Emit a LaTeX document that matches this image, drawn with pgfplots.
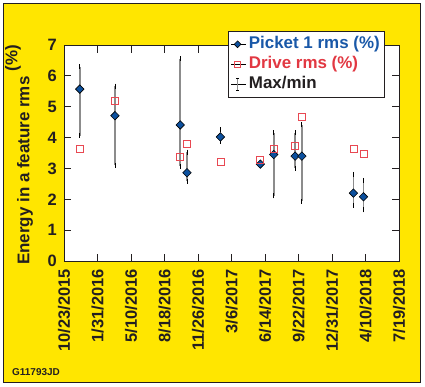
\documentclass[border=0pt]{standalone}
\usepackage{fontspec}
\setmainfont{Liberation Sans}
\usepackage{pgfplots}
\pgfplotsset{compat=1.18}
\usepackage{pgfplotstable}
\definecolor{bgyellow}{RGB}{255,230,0}
\definecolor{pblue}{RGB}{12,80,158}
\definecolor{ptext}{RGB}{25,88,168}
\definecolor{dred}{RGB}{232,72,82}
\definecolor{dtext}{RGB}{226,56,66}
\definecolor{txt}{RGB}{35,31,32}
\definecolor{ebar}{RGB}{140,140,140}
\pgfplotsset{
  leg mark/.style={legend image code/.code={\path (-6.5bp,0bp) -- (8.5bp,0bp); \draw[##1, mark size=#1] plot coordinates {(0bp,0bp)};}},
}
\pgfplotstableread{
x y top bot drive
47 5.57 6.30 4.06 3.62
152 4.71 5.67 3.10 5.20
347 4.41 6.55 3.07 3.36
367 2.86 3.53 2.58 3.78
467 4.02 4.25 3.88 3.20
586 3.14 3.18 3.10 3.27
626 3.45 4.15 2.11 3.62
690 3.40 4.16 3.00 3.74
710 3.40 4.42 1.94 4.68
864 2.20 2.81 1.81 3.62
894 2.08 2.61 1.66 3.46
}\data
\begin{document}
\begin{tikzpicture}
\useasboundingbox (-64bp,-126bp) rectangle (361bp,261bp);
\fill[white] (-64bp,-126bp) rectangle (361bp,261bp);
\fill[bgyellow] (-61bp,-121.7bp) rectangle (356.4bp,257.7bp);
\draw[line width=0.8pt, txt] (-61bp,-121.7bp) rectangle (356.4bp,257.7bp);
\node[anchor=west, inner sep=0pt, font=\bfseries\fontsize{10}{12}\selectfont, text=txt] at (-52bp,-111bp) {G11793JD};
\node[rotate=90, anchor=base west, inner sep=0pt, font=\bfseries\fontsize{17}{20}\selectfont, text=txt] (YL) at (-34.6bp,-4bp) {Energy in a feature rms};
\node[rotate=90, anchor=base west, inner sep=0pt, font=\bfseries\fontsize{17}{20}\selectfont, text=txt] at ([yshift=4.7bp, xshift=-12bp]YL.base east) {(\%)};
\begin{axis}[
  at={(0,0)}, anchor=south west, scale only axis,
  width=335bp, height=216bp,
  xmin=0, xmax=1000, ymin=0, ymax=7,
  axis background/.style={fill=white},
  axis line style={line width=0.8pt, txt},
  every tick/.style={line width=0.8pt, txt},
  tick align=inside, major tick length=7.5bp,
  xtick={0,100,...,1000},
  xticklabels={10/23/2015,1/31/2016,5/10/2016,8/18/2016,11/26/2016,3/6/2017,6/14/2017,9/22/2017,12/31/2017,4/10/2018,7/19/2018},
  ytick={0,1,...,7},
  /pgf/number format/assume math mode=true,
  xticklabel style={rotate=90, anchor=east, inner xsep=8bp, font=\bfseries\fontsize{16.5}{18}\selectfont, text=txt},
  yticklabel style={inner xsep=7bp, font=\bfseries\fontsize{16.5}{18}\selectfont, text=txt},
  legend style={at={(axis description cs:0.4896,1.0648)}, anchor=north west, draw=txt, line width=0.6pt, fill=white,
    font=\bfseries\fontsize{17}{20}\selectfont, row sep=4bp, column sep=0pt, inner xsep=2.5bp, inner ysep=5bp,
    nodes={inner xsep=2.5bp, inner ysep=0bp, text height=12bp, text depth=4bp}},
  legend cell align=left,
  error bars/error bar style={line width=1.6bp, draw=ebar, solid},
  error bars/error mark options={draw=black, line width=0.8pt, mark size=2.5bp},
]
\addplot[only marks, mark=none, forget plot,
  error bars/.cd, y dir=both, y explicit, error mark=-]
  table[x=x, y=y, y error plus expr=\thisrow{top}-\thisrow{y}, y error minus expr=\thisrow{y}-\thisrow{bot}] {\data};
\addplot[only marks, mark=square*, mark size=3bp, mark options={rotate=45, fill=pblue, draw=black, line width=0.6pt},
  leg mark=2.4bp]
  table[x=x, y=y] {\data};
\addlegendentry{\textcolor{ptext}{Picket 1 rms (\%)}}
\addplot[only marks, mark=square, mark size=3.5bp, mark options={draw=dred, line width=0.8pt},
  leg mark=2.8bp]
  table[x=x, y=drive] {\data};
\addlegendentry{\textcolor{dtext}{Drive rms (\%)}}
\addlegendimage{legend image code/.code={
  \path (-6.5bp,0bp) -- (8.5bp,0bp);
  \draw[ebar, line width=1.1pt] (0bp,-6bp)--(0bp,6bp);
  \draw[black, line width=0.6pt] (-1.5bp,-6bp)--(1.5bp,-6bp) (-1.5bp,6bp)--(1.5bp,6bp);}}
\addlegendentry{\textcolor{txt}{Max/min}}
\end{axis}
\end{tikzpicture}
\end{document}
